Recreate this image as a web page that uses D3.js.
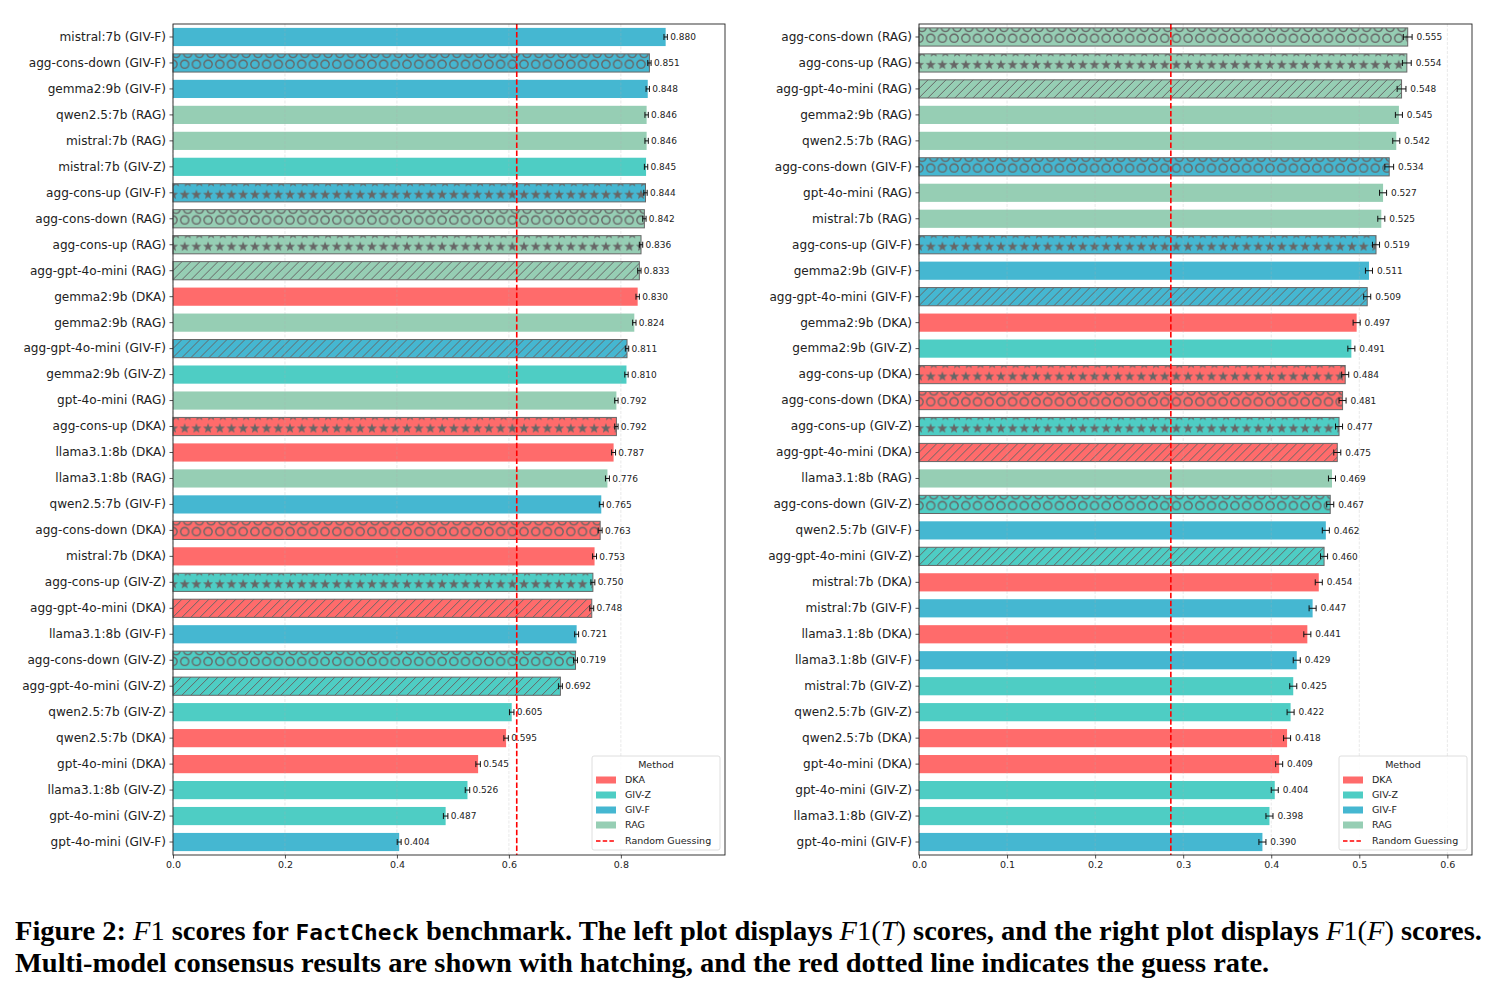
<!doctype html>
<html lang="en">
<head>
<meta charset="utf-8">
<title>F1 scores for FactCheck benchmark</title>
<script src="https://d3js.org/d3.v7.min.js"></script>
<style>
  body { margin: 0; background: #fff; }
  .axis text { font-family: "DejaVu Sans", sans-serif; fill: #222; }
  .axis line { stroke: #222; stroke-width: 0.8; }
  .val { font-family: "DejaVu Sans", sans-serif; font-size: 9px; fill: #222; }
  .leg { font-family: "DejaVu Sans", sans-serif; font-size: 9.5px; fill: #222; }
  .cap { font-family: "Liberation Serif", serif; font-weight: bold; fill: #000; }
</style>
</head>
<body>
<div id="chart"></div>
<script>
// methods and their colours
var methods = ["DKA", "GIV-Z", "GIV-F", "RAG"];
var methodColors = ["#FF6B6B", "#4ECDC4", "#45B7D1", "#96CEB4"];

// left plot: F1(T)
var leftLabels = ["mistral:7b (GIV-F)", "agg-cons-down (GIV-F)", "gemma2:9b (GIV-F)", "qwen2.5:7b (RAG)",
  "mistral:7b (RAG)", "mistral:7b (GIV-Z)", "agg-cons-up (GIV-F)", "agg-cons-down (RAG)", "agg-cons-up (RAG)",
  "agg-gpt-4o-mini (RAG)", "gemma2:9b (DKA)", "gemma2:9b (RAG)", "agg-gpt-4o-mini (GIV-F)", "gemma2:9b (GIV-Z)",
  "gpt-4o-mini (RAG)", "agg-cons-up (DKA)", "llama3.1:8b (DKA)", "llama3.1:8b (RAG)", "qwen2.5:7b (GIV-F)",
  "agg-cons-down (DKA)", "mistral:7b (DKA)", "agg-cons-up (GIV-Z)", "agg-gpt-4o-mini (DKA)", "llama3.1:8b (GIV-F)",
  "agg-cons-down (GIV-Z)", "agg-gpt-4o-mini (GIV-Z)", "qwen2.5:7b (GIV-Z)", "qwen2.5:7b (DKA)", "gpt-4o-mini (DKA)",
  "llama3.1:8b (GIV-Z)", "gpt-4o-mini (GIV-Z)", "gpt-4o-mini (GIV-F)"];
var leftScores = [0.880, 0.851, 0.848, 0.846, 0.846, 0.845, 0.844, 0.842, 0.836, 0.833, 0.830, 0.824, 0.811, 0.810,
  0.792, 0.792, 0.787, 0.776, 0.765, 0.763, 0.753, 0.750, 0.748, 0.721, 0.719, 0.692, 0.605, 0.595, 0.545,
  0.526, 0.487, 0.404];
var leftErrors = [0.003, 0.003, 0.003, 0.003, 0.003, 0.003, 0.003, 0.003, 0.003, 0.003, 0.003, 0.003, 0.003, 0.003,
  0.003, 0.003, 0.0035, 0.0035, 0.0035, 0.0035, 0.0035, 0.0035, 0.0035, 0.0035, 0.0035, 0.0035, 0.004, 0.004, 0.004,
  0.004, 0.004, 0.0035];

// right plot: F1(F)
var rightLabels = ["agg-cons-down (RAG)", "agg-cons-up (RAG)", "agg-gpt-4o-mini (RAG)", "gemma2:9b (RAG)",
  "qwen2.5:7b (RAG)", "agg-cons-down (GIV-F)", "gpt-4o-mini (RAG)", "mistral:7b (RAG)", "agg-cons-up (GIV-F)",
  "gemma2:9b (GIV-F)", "agg-gpt-4o-mini (GIV-F)", "gemma2:9b (DKA)", "gemma2:9b (GIV-Z)", "agg-cons-up (DKA)",
  "agg-cons-down (DKA)", "agg-cons-up (GIV-Z)", "agg-gpt-4o-mini (DKA)", "llama3.1:8b (RAG)", "agg-cons-down (GIV-Z)",
  "qwen2.5:7b (GIV-F)", "agg-gpt-4o-mini (GIV-Z)", "mistral:7b (DKA)", "mistral:7b (GIV-F)", "llama3.1:8b (DKA)",
  "llama3.1:8b (GIV-F)", "mistral:7b (GIV-Z)", "qwen2.5:7b (GIV-Z)", "qwen2.5:7b (DKA)", "gpt-4o-mini (DKA)",
  "gpt-4o-mini (GIV-Z)", "llama3.1:8b (GIV-Z)", "gpt-4o-mini (GIV-F)"];
var rightScores = [0.555, 0.554, 0.548, 0.545, 0.542, 0.534, 0.527, 0.525, 0.519, 0.511, 0.509, 0.497, 0.491,
  0.484, 0.481, 0.477, 0.475, 0.469, 0.467, 0.462, 0.460, 0.454, 0.447, 0.441, 0.429, 0.425, 0.422, 0.418,
  0.409, 0.404, 0.398, 0.390];
var rightErrors = [0.005, 0.005, 0.005, 0.004, 0.004, 0.005, 0.004, 0.004, 0.004, 0.004, 0.004, 0.004, 0.004,
  0.004, 0.004, 0.004, 0.004, 0.004, 0.004, 0.004, 0.004, 0.004, 0.004, 0.004, 0.004, 0.004, 0.004, 0.004,
  0.004, 0.004, 0.004, 0.004];

var guessRates = [0.614, 0.286];
var leftTicks = [0.0, 0.2, 0.4, 0.6, 0.8];
var rightTicks = [0.0, 0.1, 0.2, 0.3, 0.4, 0.5, 0.6];
var legendTitle = "Method";
var guessLabel = "Random Guessing";

var W = 1499, H = 993;
var hatchColor = "#666";

var svg = d3.select("#chart").append("svg")
  .attr("width", W).attr("height", H)
  .style("background", "#fff");

var defs = svg.append("defs");

function starPath(cx, cy, R, r) {
  var pts = [];
  for (var i = 0; i < 10; i++) {
    var a = -Math.PI / 2 + i * Math.PI / 5;
    var rad = i % 2 == 0 ? R : r;
    pts.push([cx + rad * Math.cos(a), cy + rad * Math.sin(a)]);
  }
  return "M" + pts.map(function(p) { return p[0].toFixed(2) + "," + p[1].toFixed(2); }).join("L") + "Z";
}

// one pattern per hatch kind and method colour
methods.forEach(function(m, i) {
  var col = methodColors[i];
  // circles (agg-cons-down)
  var pc = defs.append("pattern").attr("id", "circ-" + m)
    .attr("patternUnits", "userSpaceOnUse").attr("width", 11.7).attr("height", 40);
  pc.append("rect").attr("width", 11.7).attr("height", 40).attr("fill", col);
  [[3, -0.5], [14.7, -0.5], [0, 10.3], [11.7, 10.3]].forEach(function(p) {
    pc.append("circle").attr("cx", p[0]).attr("cy", p[1]).attr("r", 4.1)
      .attr("fill", "none").attr("stroke", hatchColor).attr("stroke-width", 1.4);
  });
  // stars (agg-cons-up)
  var ps = defs.append("pattern").attr("id", "star-" + m)
    .attr("patternUnits", "userSpaceOnUse").attr("width", 11.7).attr("height", 40);
  ps.append("rect").attr("width", 11.7).attr("height", 40).attr("fill", col);
  [[3, -1.5], [0, 11], [11.7, 11]].forEach(function(p) {
    ps.append("path").attr("d", starPath(p[0], p[1], 5.3, 2.2)).attr("fill", hatchColor);
  });
  // diagonal lines (agg-gpt-4o-mini)
  var pd = defs.append("pattern").attr("id", "diag-" + m)
    .attr("patternUnits", "userSpaceOnUse").attr("width", 9).attr("height", 9);
  pd.append("rect").attr("width", 9).attr("height", 9).attr("fill", col);
  pd.append("path").attr("d", "M0,9L9,0M-2,2L2,-2M7,11L11,7")
    .attr("stroke", hatchColor).attr("stroke-width", 1);
});

function methodOf(label) {
  return label.substring(label.indexOf("(") + 1, label.indexOf(")"));
}
function hatchOf(label) {
  if (label.indexOf("agg-cons-down") == 0) return "circ";
  if (label.indexOf("agg-cons-up") == 0) return "star";
  if (label.indexOf("agg-gpt-4o-mini") == 0) return "diag";
  return null;
}

function drawPanel(opts) {
  var x = d3.scaleLinear().domain([0, opts.xmax]).range([opts.left, opts.right]);
  var y = d3.scaleBand().domain(opts.labels).range([opts.top, opts.bottom])
    .paddingInner(0.3).paddingOuter(0.15);
  var g = svg.append("g");

  // bars
  var bars = g.selectAll("g.bar")
    .data(opts.labels.map(function(l, i) { return {label: l, v: opts.scores[i], e: opts.errors[i]}; }))
    .enter().append("g").attr("class", "bar")
    .attr("transform", function(d) { return "translate(" + x(0) + "," + y(d.label) + ")"; });

  bars.append("rect")
    .attr("width", function(d) { return x(d.v) - x(0); })
    .attr("height", y.bandwidth())
    .attr("fill", function(d) {
      var m = methodOf(d.label), h = hatchOf(d.label);
      return h ? "url(#" + h + "-" + m + ")" : methodColors[methods.indexOf(m)];
    })
    .attr("stroke", function(d) { return hatchOf(d.label) ? hatchColor : "none"; })
    .attr("stroke-width", 1);

  // grid (above bars like matplotlib)
  g.selectAll("line.grid").data(opts.ticks).enter().append("line")
    .attr("x1", function(d) { return x(d); }).attr("x2", function(d) { return x(d); })
    .attr("y1", opts.top).attr("y2", opts.bottom)
    .attr("stroke", "#b0b0b0").attr("stroke-opacity", 0.35)
    .attr("stroke-width", 0.8).attr("stroke-dasharray", "3,1.5");

  // error bars
  var eb = g.selectAll("g.err").data(bars.data()).enter().append("g")
    .attr("stroke", "#111").attr("stroke-width", 1);
  var cy = function(d) { return y(d.label) + y.bandwidth() / 2; };
  eb.append("line")
    .attr("x1", function(d) { return x(d.v - d.e); }).attr("x2", function(d) { return x(d.v + d.e); })
    .attr("y1", cy).attr("y2", cy);
  eb.append("line")
    .attr("x1", function(d) { return x(d.v - d.e); }).attr("x2", function(d) { return x(d.v - d.e); })
    .attr("y1", function(d) { return cy(d) - 3; }).attr("y2", function(d) { return cy(d) + 3; });
  eb.append("line")
    .attr("x1", function(d) { return x(d.v + d.e); }).attr("x2", function(d) { return x(d.v + d.e); })
    .attr("y1", function(d) { return cy(d) - 3; }).attr("y2", function(d) { return cy(d) + 3; });

  // value labels
  g.selectAll("text.val").data(bars.data()).enter().append("text")
    .attr("class", "val")
    .attr("x", function(d) { return x(d.v + d.e + 0.005); })
    .attr("y", cy).attr("dy", "0.35em")
    .text(function(d) { return d.v.toFixed(3); });

  // random guessing line
  g.append("line")
    .attr("x1", x(opts.guess)).attr("x2", x(opts.guess))
    .attr("y1", opts.top).attr("y2", opts.bottom)
    .attr("stroke", "#ff0000").attr("stroke-width", 1.6).attr("stroke-dasharray", "5.5,2.4");

  // axes
  var ya = g.append("g").attr("class", "axis").attr("transform", "translate(" + opts.left + ",0)")
    .call(d3.axisLeft(y).tickSize(3.5).tickPadding(3.5));
  ya.select(".domain").remove();
  ya.selectAll("text").style("font-size", "12.1px");

  var xa = g.append("g").attr("class", "axis").attr("transform", "translate(0," + opts.bottom + ")")
    .call(d3.axisBottom(x).tickValues(opts.ticks).tickFormat(d3.format(".1f")).tickSize(3.5).tickPadding(3));
  xa.select(".domain").remove();
  xa.selectAll("text").style("font-size", "9.5px");

  g.append("rect")
    .attr("x", opts.left).attr("y", opts.top)
    .attr("width", opts.right - opts.left).attr("height", opts.bottom - opts.top)
    .attr("fill", "none").attr("stroke", "#222").attr("stroke-width", 0.9);

  // legend
  var lw = 128, lh = 94;
  var lx = opts.right - 5 - lw, ly = opts.bottom - 5 - lh;
  var lg = g.append("g").attr("transform", "translate(" + lx + "," + ly + ")");
  lg.append("rect").attr("width", lw).attr("height", lh).attr("rx", 2)
    .attr("fill", "#fff").attr("fill-opacity", 0.85).attr("stroke", "#d5d5d5").attr("stroke-width", 0.8);
  lg.append("text").attr("class", "leg").attr("x", 64).attr("y", 9).attr("dy", "0.35em")
    .attr("text-anchor", "middle").text(legendTitle);
  methods.forEach(function(m, i) {
    var yy = 24 + i * 15;
    lg.append("rect").attr("x", 4).attr("y", yy - 3.5).attr("width", 20).attr("height", 7)
      .attr("fill", methodColors[i]);
    lg.append("text").attr("class", "leg").attr("x", 33).attr("y", yy).attr("dy", "0.35em").text(m);
  });
  var gy = 24 + 4 * 15 + 1;
  lg.append("line").attr("x1", 4).attr("x2", 24).attr("y1", gy).attr("y2", gy)
    .attr("stroke", "#ff0000").attr("stroke-width", 1.5).attr("stroke-dasharray", "4.5,2.2");
  lg.append("text").attr("class", "leg").attr("x", 33).attr("y", gy).attr("dy", "0.35em").text(guessLabel);
}

drawPanel({labels: leftLabels, scores: leftScores, errors: leftErrors, ticks: leftTicks,
  guess: guessRates[0], xmax: 0.986, left: 173, right: 725, top: 24, bottom: 855});
drawPanel({labels: rightLabels, scores: rightScores, errors: rightErrors, ticks: rightTicks,
  guess: guessRates[1], xmax: 0.628, left: 919, right: 1472, top: 24, bottom: 855});

// caption, first line fills the full width
var capLine1 = [
  ["Figure 2: ", "b"], ["F", "i"], ["1", "r"], [" scores for ", "b"], ["FactCheck", "m"],
  [" benchmark. The left plot displays ", "b"], ["F", "i"], ["1(", "r"], ["T", "i"], [")", "r"],
  [" scores, and the right plot displays ", "b"], ["F", "i"], ["1(", "r"], ["F", "i"], [")", "r"],
  [" scores.", "b"]];
var capLine2 = [["Multi-model consensus results are shown with hatching, and the red dotted line indicates the guess rate.", "b"]];
var capFont = 27.5;

var capG = svg.append("g");
function capText(parts, yy) {
  var t = capG.append("text").attr("class", "cap").attr("x", 0).attr("y", yy)
    .style("font-size", capFont + "px");
  parts.forEach(function(p) {
    var s = t.append("tspan").text(p[0]);
    if (p[1] == "i") s.style("font-style", "italic").style("font-weight", "normal");
    if (p[1] == "r") s.style("font-weight", "normal");
    if (p[1] == "m") s.style("font-family", "'DejaVu Sans Mono', monospace").style("font-size", (capFont * 0.8) + "px");
  });
  return t;
}
var c1 = capText(capLine1, 940), c2 = capText(capLine2, 972);
var w1 = c1.node().getComputedTextLength();
var sx = 1468 / w1;
capG.attr("transform", "translate(15,0) scale(" + sx + ",1)");
</script>
</body>
</html>
